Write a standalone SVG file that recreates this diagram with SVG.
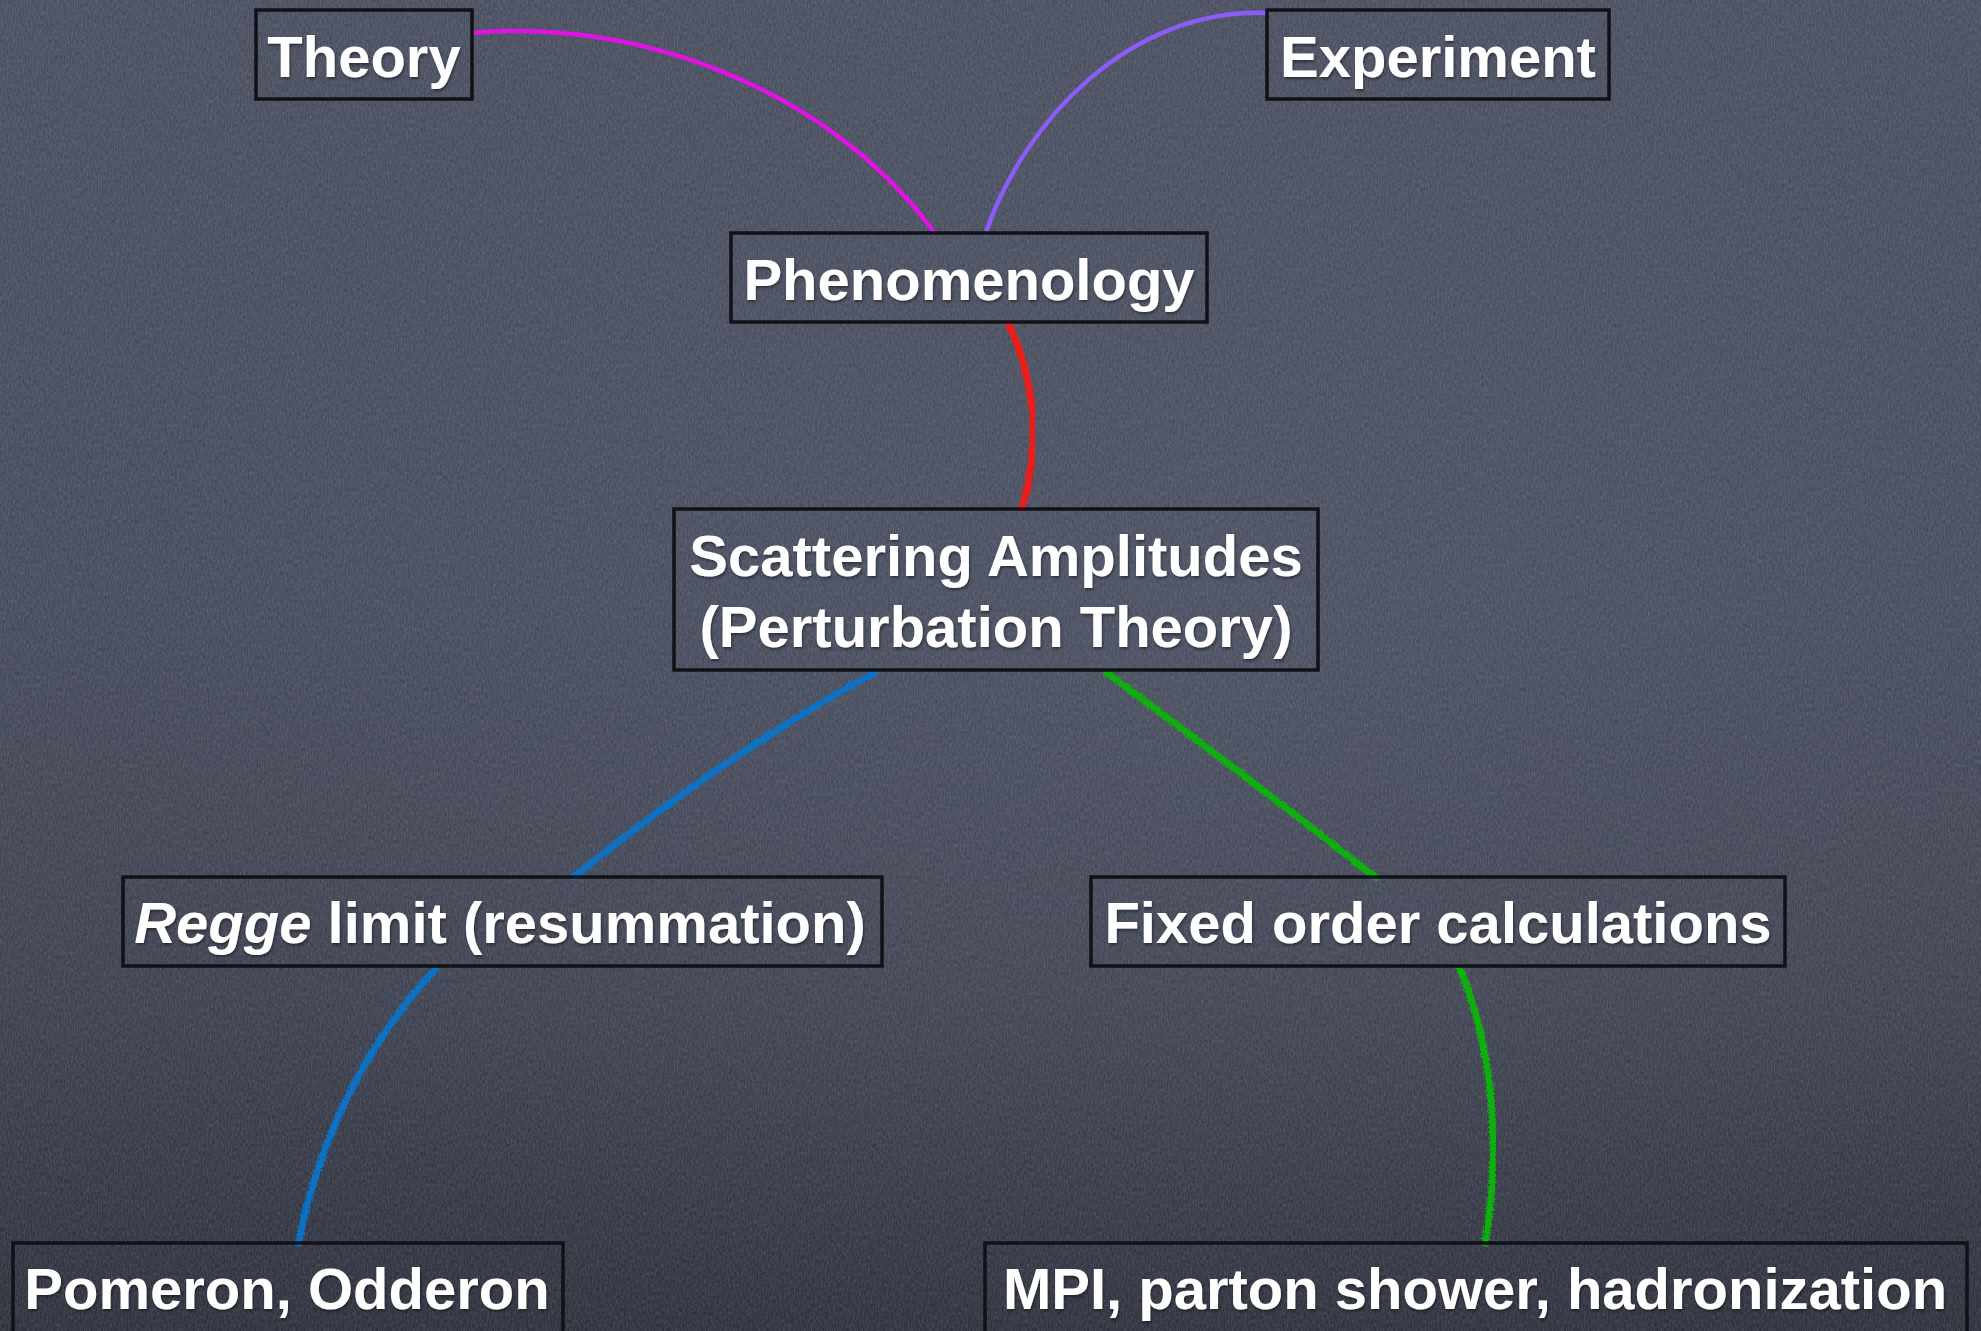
<svg xmlns="http://www.w3.org/2000/svg" width="1981" height="1331" viewBox="0 0 1981 1331">
  <defs>
    <linearGradient id="bg" x1="0" y1="0" x2="0" y2="1">
      <stop offset="0" stop-color="#474c5d"/>
      <stop offset="0.45" stop-color="#434859"/>
      <stop offset="0.75" stop-color="#3a3e4d"/>
      <stop offset="1" stop-color="#2a2e3a"/>
    </linearGradient>
    <radialGradient id="glow" cx="0.62" cy="0.5" r="0.55">
      <stop offset="0" stop-color="#5c6275" stop-opacity="0.25"/>
      <stop offset="1" stop-color="#5c6275" stop-opacity="0"/>
    </radialGradient>
    <filter id="noise" x="0" y="0" width="100%" height="100%">
      <feTurbulence type="fractalNoise" baseFrequency="0.7 0.25" numOctaves="4" seed="4" result="n"/>
      <feColorMatrix in="n" type="matrix" values="0 0 0 0 1  0 0 0 0 1  0 0 0 0 1  0 0 0 0.22 -0.05"/>
    </filter>
    <filter id="chalk" x="-10%" y="-10%" width="120%" height="120%">
      <feTurbulence type="turbulence" baseFrequency="0.6" numOctaves="2" seed="7" result="t"/>
      <feDisplacementMap in="SourceGraphic" in2="t" scale="5" xChannelSelector="R" yChannelSelector="G"/>
    </filter>
    <filter id="shadow" x="-5%" y="-20%" width="110%" height="140%">
      <feDropShadow dx="1" dy="2" stdDeviation="1.5" flood-color="#000" flood-opacity="0.45"/>
    </filter>
  </defs>
  <style>
    .box { fill: none; stroke: #101217; stroke-width: 3.5; }
    .lbl { font-family: "Liberation Sans", Arial, Helvetica, sans-serif; font-weight: bold; font-size: 58px; fill: #ffffff; text-anchor: middle; }
    .smooth { fill: none; stroke-width: 4.5; stroke-linecap: butt; }
    .chalk { fill: none; stroke-width: 7; stroke-linecap: round; filter: url(#chalk); }
  </style>

  <rect x="0" y="0" width="1981" height="1331" fill="url(#bg)"/>
  <rect x="0" y="0" width="1981" height="1331" fill="url(#glow)"/>
  <rect x="0" y="0" width="1981" height="1331" filter="url(#noise)"/>

  <g id="connectors">
    <path class="smooth" stroke="#e112e4" d="M473,33 C640,18 830,90 934,232"/>
    <path class="smooth" stroke="#8b5cf6" d="M1267,13 C1130,8 1025,120 986,232"/>
    <path class="chalk" stroke="#ee1c14" d="M1008,324 Q1048,412 1021,507"/>
    <path class="chalk" stroke="#0a72c4" d="M873,672 Q740,742 572,876"/>
    <path class="chalk" stroke="#0a72c4" d="M434,968 Q330,1080 297,1242"/>
    <path class="chalk" stroke="#10b010" d="M1105,671 Q1240,771 1374,876"/>
    <path class="chalk" stroke="#10b010" d="M1459,968 Q1508,1090 1484,1242"/>
  </g>

  <g id="theory">
    <rect class="box" x="256" y="10" width="216" height="89"/>
    <text class="lbl" x="364" y="77" filter="url(#shadow)">Theory</text>
  </g>
  <g id="experiment">
    <rect class="box" x="1267" y="10" width="342" height="89"/>
    <text class="lbl" x="1438" y="77" filter="url(#shadow)">Experiment</text>
  </g>
  <g id="phenomenology">
    <rect class="box" x="731" y="233" width="476" height="89"/>
    <text class="lbl" x="969" y="300" filter="url(#shadow)">Phenomenology</text>
  </g>
  <g id="scattering">
    <rect class="box" x="674" y="509" width="644" height="161"/>
    <text class="lbl" x="996" y="576" filter="url(#shadow)">Scattering Amplitudes</text>
    <text class="lbl" x="996" y="647" filter="url(#shadow)">(Perturbation Theory)</text>
  </g>
  <g id="regge">
    <rect class="box" x="123" y="877" width="759" height="89"/>
    <text class="lbl" x="500" y="943" filter="url(#shadow)"><tspan font-style="italic">Regge</tspan> limit (resummation)</text>
  </g>
  <g id="fixed">
    <rect class="box" x="1091" y="877" width="694" height="89"/>
    <text class="lbl" x="1438" y="943" filter="url(#shadow)">Fixed order calculations</text>
  </g>
  <g id="pomeron">
    <rect class="box" x="13" y="1243" width="550" height="95"/>
    <text class="lbl" x="287" y="1309" filter="url(#shadow)">Pomeron, Odderon</text>
  </g>
  <g id="mpi">
    <rect class="box" x="985" y="1243" width="982" height="95"/>
    <text class="lbl" x="1475" y="1309" filter="url(#shadow)">MPI, parton shower, hadronization</text>
  </g>
</svg>
